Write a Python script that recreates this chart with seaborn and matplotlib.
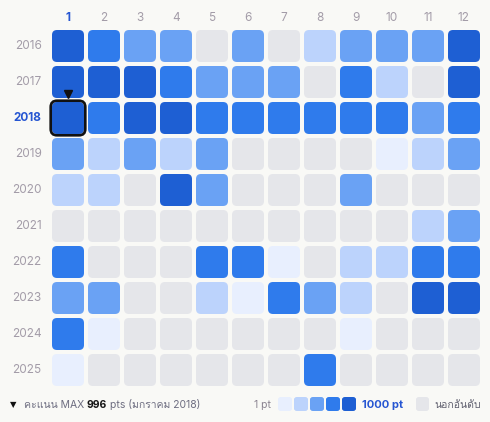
import matplotlib
matplotlib.use('Agg')
import matplotlib.pyplot as plt
from matplotlib import font_manager
from matplotlib.ft2font import FT2Font
from matplotlib.colors import ListedColormap
from matplotlib.patches import FancyBboxPatch
import pandas as pd
import seaborn as sns

# Data: score level per month (0 = out of ranking, 1 = ~1 pt ... 5 = ~1000 pt)
years = [2016, 2017, 2018, 2019, 2020, 2021, 2022, 2023, 2024, 2025]
months = [1, 2, 3, 4, 5, 6, 7, 8, 9, 10, 11, 12]
lv_2016 = [5, 4, 3, 3, 0, 3, 0, 2, 3, 3, 3, 5]
lv_2017 = [5, 5, 5, 4, 3, 3, 3, 0, 4, 2, 0, 5]
lv_2018 = [5, 4, 5, 5, 4, 4, 4, 4, 4, 4, 3, 4]
lv_2019 = [3, 2, 3, 2, 3, 0, 0, 0, 0, 1, 2, 3]
lv_2020 = [2, 2, 0, 5, 3, 0, 0, 0, 3, 0, 0, 0]
lv_2021 = [0, 0, 0, 0, 0, 0, 0, 0, 0, 0, 2, 3]
lv_2022 = [4, 0, 0, 0, 4, 4, 1, 0, 2, 2, 4, 4]
lv_2023 = [3, 3, 0, 0, 2, 1, 4, 3, 2, 0, 5, 5]
lv_2024 = [4, 1, 0, 0, 0, 0, 0, 0, 1, 0, 0, 0]
lv_2025 = [1, 0, 0, 0, 0, 0, 0, 4, 0, 0, 0, 0]
max_score = 996
max_label = 'มกราคม 2018'
top_year, top_month = 2018, 1

level_colors = ['#e5e6ea', '#e8effe', '#bcd3fc', '#6aa2f4', '#2f7bec', '#1e5fd3']
bg = '#f9f9f6'
label_grey = '#a39ca8'
blue = '#2656d2'


def thai_font():
    # first installed family that has Thai glyphs
    for f in font_manager.fontManager.ttflist:
        try:
            if 0x0E04 in FT2Font(f.fname).get_charmap():
                return f.name
        except Exception:
            pass
    return None


th = thai_font()
families = ['Inter'] + ([th] if th else []) + ['DejaVu Sans']

df = pd.DataFrame([lv_2016, lv_2017, lv_2018, lv_2019, lv_2020,
                   lv_2021, lv_2022, lv_2023, lv_2024, lv_2025],
                  index=years, columns=months)

sns.set_style('white')
plt.rcParams['font.family'] = families

fig = plt.figure(figsize=(4.9, 4.22), dpi=100, facecolor=bg)
ax = fig.add_axes([50 / 490, 34 / 422, 432 / 490, 360 / 422])
ax.set_facecolor(bg)
sns.heatmap(df, cmap=ListedColormap(level_colors), vmin=-0.5, vmax=5.5,
            cbar=False, ax=ax)
ax.collections[0].set_visible(False)

# rounded cells
g = 2 / 36
r = 5 / 36
for i, yr in enumerate(years):
    for j, m in enumerate(months):
        ax.add_patch(FancyBboxPatch((j + g, i + g), 1 - 2 * g, 1 - 2 * g,
                                    boxstyle=f'round,pad=0,rounding_size={r}',
                                    facecolor=level_colors[df.loc[yr, m]],
                                    edgecolor='none'))

# highlight max month
ti = years.index(top_year)
tj = months.index(top_month)
e = 1.3 / 36
ax.add_patch(FancyBboxPatch((tj + g - e, ti + g - e), 1 - 2 * g + 2 * e, 1 - 2 * g + 2 * e,
                            boxstyle=f'round,pad=0,rounding_size={r + e}',
                            facecolor='none', edgecolor='#111111', lw=1.9, clip_on=False))
ax.plot(tj + 0.5, ti - 0.16, marker='v', color='#111111', markersize=5.5, clip_on=False)

ax.xaxis.tick_top()
ax.set_xticks([j + 0.5 for j in range(len(months))])
ax.set_xticklabels([str(m) for m in months], rotation=0)
ax.set_yticks([i + 0.5 for i in range(len(years))])
ax.set_yticklabels([str(y) for y in years], rotation=0)
ax.tick_params(length=0, labelsize=8.5, colors=label_grey)
ax.tick_params(axis='x', pad=3)
ax.tick_params(axis='y', pad=6)
for t in ax.get_xticklabels():
    t.set_color(label_grey)
    if t.get_text() == str(top_month):
        t.set_color(blue)
        t.set_fontweight('bold')
for t in ax.get_yticklabels():
    t.set_color(label_grey)
    if t.get_text() == str(top_year):
        t.set_color(blue)
        t.set_fontweight('bold')
ax.set_xlabel('')
ax.set_ylabel('')
for s in ax.spines.values():
    s.set_visible(False)

# bottom legend
W, H = 490, 422
ly = (H - 405) / H
fig.text(13 / W, ly, '▼', fontsize=6, color='#111111', va='center', ha='center',
         family='DejaVu Sans')
fig.canvas.draw()
renderer = fig.canvas.get_renderer()
x = 24
for txt, col, wt in [('คะแนน MAX', '#6d6d80', 'normal'),
                     (str(max_score), '#161616', 'bold'),
                     (f'pts ({max_label})', '#6d6d80', 'normal')]:
    t = fig.text(x / W, ly, txt, fontsize=7.5, color=col, fontweight=wt, va='center')
    x = t.get_window_extent(renderer).x1 + 2.5

fig.text(271 / W, ly, '1 pt', fontsize=7.5, color='#8a8390', va='center', ha='right')
for k in range(5):
    fig.add_artist(FancyBboxPatch(((278 + 16 * k) / W, (H - 411) / H), 14 / W, 14 / H,
                                  boxstyle='round,pad=0,rounding_size=0.006',
                                  transform=fig.transFigure,
                                  facecolor=level_colors[k + 1], edgecolor='none'))
fig.text(362 / W, ly, '1000 pt', fontsize=8, color=blue, fontweight='bold', va='center')
fig.add_artist(FancyBboxPatch((416 / W, (H - 411) / H), 13 / W, 14 / H,
                              boxstyle='round,pad=0,rounding_size=0.006',
                              transform=fig.transFigure,
                              facecolor=level_colors[0], edgecolor='none'))
fig.text(434 / W, ly, 'นอกอันดับ', fontsize=7.5, color='#5f5f6e', va='center', ha='left')

fig.savefig('out.png', dpi=100, facecolor=bg)
